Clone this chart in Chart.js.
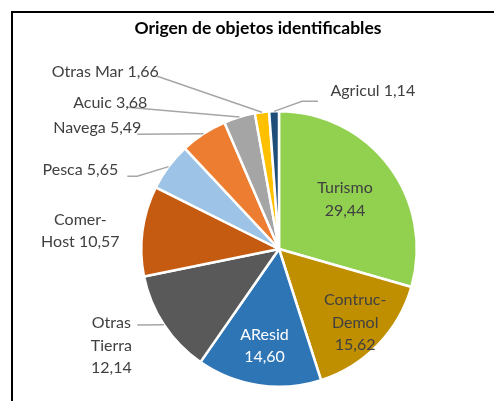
<!DOCTYPE html>
<html>
<head>
<meta charset="utf-8">
<script src="https://cdn.jsdelivr.net/npm/chart.js@4.4.1/dist/chart.umd.min.js"></script>
<style>
  html, body { margin: 0; padding: 0; background: #fff; overflow: hidden; }
  #wrap { position: relative; width: 494px; height: 401px; overflow: hidden; }
  #frame { position: absolute; left: 11px; top: 11px; width: 700px; height: 700px;
           border-left: 2px solid #000; border-top: 2px solid #000; }
  #title { position: absolute; left: 0; width: 516px; top: 17px; text-align: center;
           font: bold 17.5px Lato, "Open Sans", sans-serif; color: #000; line-height: 22px; }
  canvas { position: absolute; left: 0; top: 0; }
</style>
</head>
<body>
<div id="wrap">
  <div id="frame"></div>
  <canvas id="c" width="494" height="401"></canvas>
  <div id="title">Origen de objetos identificables</div>
</div>
<script>
// Origin of identifiable objects, share in percent
const categories = ["Turismo", "Contruc-Demol", "AResid", "Otras Tierra", "Comer-Host",
                    "Pesca", "Navega", "Acuic", "Otras Mar", "Agricul"];
const shares = [29.44, 15.62, 14.60, 12.14, 10.57, 5.65, 5.49, 3.68, 1.66, 1.14];
const sliceColors = ["#92D050", "#BF8F00", "#2E75B6", "#595959", "#C55A11",
                     "#9DC3E6", "#ED7D31", "#A5A5A5", "#FFC000", "#1F4E79"];
// label text per slice; {v} is replaced by the formatted share
const labelTemplates = ["Turismo\n{v}", "Contruc-\nDemol\n{v}", "AResid\n{v}", "Otras\nTierra\n{v}",
                        "Comer-\nHost {v}", "Pesca {v}", "Navega {v}", "Acuic {v}",
                        "Otras Mar {v}", "Agricul {v}"];

// label placement, in units of the pie radius relative to its centre
const labelLayout = [
  { inside: 0.60 },
  { inside: 0.77 },
  { inside: 0.71, color: "#FFFFFF" },
  { at: [-1.217, 0.703], leader: [[-1.029, 0.551]] },
  { at: [-1.442, -0.130] },
  { at: [-1.442, -0.572], leader: [[-1.029, -0.529], [-1.101, -0.529]] },
  { at: [-1.319, -0.877], leader: [[-1.029, -0.833]] },
  { at: [-1.225, -1.058], leader: [[-1.101, -1.029]] },
  { at: [-1.261, -1.283], leader: [[-0.884, -1.254]] },
  { at: [0.681, -1.145], leader: [[0.167, -1.072], [0.283, -1.072]] }
];

const fmt = v => v.toFixed(2).replace(".", ",");
const LABEL_FONT = "16px Lato, 'Open Sans', sans-serif";
const LINE_H = 22.5;

const sliceLabels = {
  id: "sliceLabels",
  afterDatasetsDraw(chart) {
    const ctx = chart.ctx;
    const meta = chart.getDatasetMeta(0);
    ctx.save();
    ctx.font = LABEL_FONT;
    ctx.textAlign = "center";
    ctx.textBaseline = "middle";
    meta.data.forEach((arc, i) => {
      const p = arc.getProps(["x", "y", "startAngle", "endAngle", "outerRadius"], true);
      const mid = (p.startAngle + p.endAngle) / 2;
      const r = p.outerRadius;
      const lay = labelLayout[i];
      const lines = labelTemplates[i].replace("{v}", fmt(shares[i])).split("\n");
      let cx, cy;
      if (lay.inside) {
        cx = p.x + Math.cos(mid) * r * lay.inside;
        cy = p.y + Math.sin(mid) * r * lay.inside;
      } else {
        cx = p.x + lay.at[0] * r;
        cy = p.y + lay.at[1] * r;
        if (lay.leader) {
          ctx.beginPath();
          ctx.strokeStyle = "#A6A6A6";
          ctx.lineWidth = 1.5;
          ctx.moveTo(p.x + Math.cos(mid) * r, p.y + Math.sin(mid) * r);
          lay.leader.forEach(pt => ctx.lineTo(p.x + pt[0] * r, p.y + pt[1] * r));
          ctx.stroke();
        }
      }
      ctx.fillStyle = lay.color || "#404040";
      const top = cy - (lines.length - 1) * LINE_H / 2;
      lines.forEach((ln, k) => ctx.fillText(ln, cx, top + k * LINE_H));
    });
    ctx.restore();
  }
};

new Chart(document.getElementById("c"), {
  type: "pie",
  data: {
    labels: categories,
    datasets: [{
      data: shares,
      backgroundColor: sliceColors,
      borderColor: "#FFFFFF",
      borderWidth: 2.5
    }]
  },
  options: {
    responsive: false,
    animation: false,
    layout: { padding: { left: 140, right: 76, top: 110, bottom: 13 } },
    plugins: {
      legend: { display: false },
      tooltip: { enabled: false },
      title: { display: false }
    }
  },
  plugins: [sliceLabels]
});
</script>
</body>
</html>
